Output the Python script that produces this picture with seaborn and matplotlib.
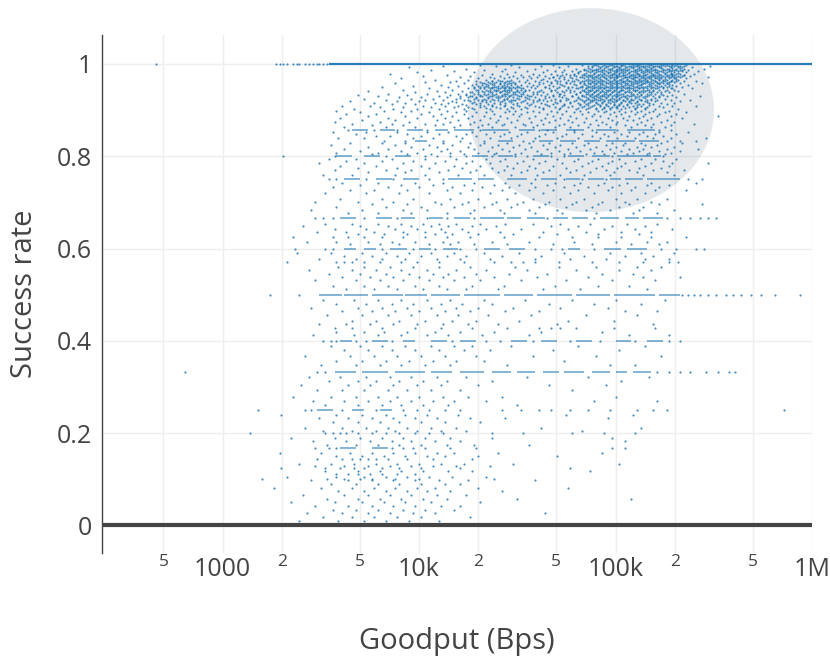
import numpy as np
import pandas as pd
import seaborn as sns
import matplotlib.pyplot as plt
from matplotlib.ticker import FixedLocator, FixedFormatter

# values: y in thousandths, x as 100*log10(Bps)
rows_top = {
 998: [431,447,468,483,489,490,494,497,498,503,504,509,511,512,517,518,523,524,526,529,531,536],
 995: [412,439,462,476,486,491,493,496,500,501,505,507,510,513,515,516,520,521,525,527,530,533,548],
 993: [395,451,471,488,492,495,499,502,506,508,509,512,514,517,519,522,523,528,532,534,539],
 990: [424,444,459,480,484,487,490,491,496,497,501,503,504,507,511,513,516,518,520,524,526,527,531,535,545],
 988: [406,433,465,474,485,489,493,494,498,500,502,505,506,510,512,515,517,519,521,525,529,530,533,537],
 984: [418,442,455,469,478,482,486,488,491,492,495,499,501,504,508,509,511,514,516,518,522,523,527,528,532,534,542],
 982: [399,428,449,463,473,481,487,490,493,496,497,500,503,505,507,510,513,515,517,520,521,524,526,530,536],
 979: [385,437,445,458,467,475,479,484,489,492,494,498,499,502,506,509,511,512,516,519,522,525,528,529,531,533,540],
 977: [414,432,452,461,470,477,483,486,488,491,495,497,501,504,505,508,510,514,515,518,520,523,527,530,535],
 974: [402,426,441,448,456,464,472,480,485,487,490,493,496,500,502,503,507,509,512,513,517,519,521,524,526,529,532,534,538],
 971: [421,436,446,453,460,468,474,482,486,489,492,494,498,499,501,505,506,510,511,514,516,518,522,525,528,531,533,547],
 969: [391,430,438,443,450,457,466,471,478,484,488,491,495,497,500,504,508,509,513,515,517,520,521,523,527,530,536],
 966: [408,425,434,440,447,455,462,469,476,481,485,487,490,493,496,499,502,503,506,510,512,514,516,519,522,524,526,529,532],
 963: [419,429,437,442,445,451,459,465,472,479,483,486,489,492,494,498,501,505,507,508,511,513,515,518,520,525,528,531,535,541],
 961: [403,416,431,435,439,444,448,454,461,467,475,482,488,491,495,497,500,503,504,509,512,516,517,521,523,527,530],
 958: [388,423,433,436,441,446,449,456,463,470,477,484,487,490,493,496,499,502,506,510,511,514,515,519,522,524,526,533,544],
 955: [411,427,432,435,438,443,447,452,458,466,473,480,485,489,492,494,498,501,505,507,508,512,513,518,520,525,529,537],
 953: [397,420,430,434,440,442,445,450,455,460,468,474,483,486,488,491,495,497,500,503,504,509,511,516,517,521,523,527,531],
 950: [381,415,428,433,437,439,444,448,451,457,464,471,478,482,487,490,493,496,499,502,506,510,513,515,519,522,526,534],
 947: [405,425,431,436,441,443,446,449,453,459,466,476,481,485,489,492,494,498,501,505,507,508,512,514,518,520,524,528,539],
 944: [392,417,429,434,438,440,445,447,452,456,462,469,475,483,486,488,491,495,497,500,503,504,509,511,516,517,522,530],
 942: [374,409,422,432,435,439,442,444,450,454,461,467,473,479,484,487,490,493,496,499,502,506,510,513,515,519,525,532],
 939: [398,413,426,430,436,441,446,448,451,458,463,470,477,482,485,489,492,494,498,501,505,507,512,514,518,521,527],
 936: [384,404,420,428,433,437,443,445,449,453,460,465,472,480,486,488,491,495,497,500,503,508,511,516,520,523,535],
 933: [369,394,416,424,431,434,438,442,447,450,455,462,468,474,483,487,490,493,496,499,502,506,509,513,517,524,529],
 931: [379,410,421,427,432,436,440,444,446,452,457,464,471,478,484,489,492,494,498,501,504,507,510,515,519,526,543],
 928: [390,401,414,425,429,435,439,441,448,454,459,466,473,481,485,488,491,495,500,503,505,511,514,522,531],
 925: [372,396,407,419,428,433,437,443,445,451,456,461,469,476,482,486,490,493,497,499,502,506,508,512,518,525],
 922: [383,403,412,423,430,434,440,447,449,458,463,467,475,483,487,489,492,496,501,504,509,513,516,521,528,538],
 919: [365,389,400,417,426,432,436,442,446,453,460,465,472,479,484,488,494,498,500,505,507,511,515,520,533],
 916: [377,393,408,415,427,431,438,444,450,455,462,470,477,481,486,490,493,497,503,508,510,517,523,530],
 913: [386,398,411,422,429,435,441,448,457,464,468,474,482,485,491,495,499,502,506,512,514,519,526],
 909: [361,375,402,413,420,433,437,443,451,459,466,473,478,484,488,492,496,501,504,509,513,522,529,541],
 906: [380,392,406,418,425,431,439,447,454,461,469,476,483,487,494,498,500,507,511,516,524],
 903: [367,387,399,410,423,428,436,445,452,463,471,480,485,490,493,497,503,510,515,520,532],
}
rows_dense = {
 996: [488,495,499,503,508,511,514,519,522,528,532,535],
 991: [486,492,494,498,502,505,509,512,515,518,523,529,533],
 986: [484,488,490,493,497,500,503,506,510,513,516,520,524,527,531,534],
 981: [481,485,489,494,496,499,502,504,507,511,514,518,521,525,528,532],
 976: [473,479,484,487,491,493,498,500,504,508,512,515,519,522,526,529,535],
 972: [468,477,483,488,490,494,497,501,505,507,510,514,517,520,523,527,530],
 967: [463,474,480,486,489,492,495,499,503,506,509,512,515,518,522,525,531],
 964: [437,441,446,470,478,484,488,491,493,497,500,504,507,510,513,516,520,524,528],
 959: [432,438,443,447,467,475,482,486,489,492,495,498,501,505,508,511,514,518,521,526],
 956: [429,434,437,441,445,449,461,472,479,484,487,490,493,497,500,503,506,509,513,517,522,527],
 951: [431,435,438,442,446,450,464,476,483,486,489,492,495,498,501,504,507,511,514,518,524],
 948: [428,433,437,440,444,447,452,470,480,485,488,491,494,497,500,503,506,509,512,516,521,529],
 943: [430,436,439,443,446,450,454,467,477,484,487,490,493,496,499,503,507,510,514,519,526],
 940: [427,433,437,441,445,449,453,460,474,482,486,489,492,495,498,502,505,508,512,517,523],
 935: [424,430,435,439,444,448,452,458,471,480,485,488,491,494,497,501,504,509,513,518],
 930: [426,431,437,442,446,451,456,468,478,483,487,490,493,496,500,505,508,512,516,522],
 926: [421,429,435,440,445,450,455,464,475,481,486,489,492,495,498,502,506,510,515,520],
 921: [425,432,438,443,448,454,461,472,480,485,488,491,494,497,500,504,508,513,518],
 917: [419,428,434,441,447,452,458,469,477,484,487,490,493,496,499,503,507,511,516],
 911: [424,431,437,444,450,456,465,474,482,486,489,492,495,499,502,506,511,517],
 905: [427,434,441,448,455,463,472,481,486,490,494,497,501,505,510,515],
}
rows_mid = {
 899: [358,382,396,414,424,437,446,449,458,467,475,482,491,495,502,508,513,519,527],
 895: [370,391,405,419,429,434,444,455,461,470,479,486,494,499,505,511,517,525,536],
 891: [363,378,401,411,423,438,448,452,465,473,483,489,497,503,510,515,522,531],
 887: [374,393,407,417,427,433,441,451,459,468,477,488,492,500,507,514,521,528,552],
 883: [360,384,399,413,425,436,445,456,464,472,480,485,496,504,512,518,534],
 879: [371,388,409,420,431,440,450,462,469,476,490,498,506,509,516,526],
 875: [357,380,395,416,428,439,447,457,466,478,484,493,501,513,523,530],
 871: [366,386,403,412,426,435,443,453,463,474,487,495,500,511,519,540],
 867: [376,392,408,421,432,442,454,460,471,481,491,505,515,528],
 863: [362,383,398,418,430,437,449,458,469,477,486,497,508,518,525],
 852: [356,373,389,404,415,427,438,446,455,468,479,490,499,507,514,522,537],
 848: [368,394,410,424,434,443,452,464,475,483,494,503,512,520,531],
 844: [378,385,401,419,429,441,450,461,473,488,496,506,516,524],
 839: [359,372,397,407,422,436,447,459,470,481,492,501,510,519,528,546],
 828: [365,381,393,412,426,433,445,456,466,478,486,498,505,513,523,534],
 824: [355,388,405,417,431,440,451,463,472,484,495,504,515,521],
 820: [374,396,409,425,437,448,457,469,480,490,500,511,518,530],
 816: [362,384,402,414,428,442,454,465,476,487,497,507,514,526,542],
 812: [370,391,411,421,435,446,460,471,482,493,503,512,522,533],
 808: [358,379,399,416,430,439,452,467,477,489,499,509,517,528],
 804: [376,394,406,423,438,449,462,474,485,494,506,516,525],
 794: [354,368,386,403,419,434,444,458,470,481,491,502,513,520,531],
 789: [363,381,397,413,427,441,453,464,479,488,498,510,524],
 785: [349,372,392,408,424,436,450,461,473,486,496,505,518,529,547],
 780: [360,378,401,418,431,445,456,468,483,493,503,515,527],
 775: [369,389,405,422,437,448,459,475,490,501,512,523],
 770: [357,383,396,415,429,443,455,466,480,495,507,519,535],
 765: [374,393,410,426,440,452,463,477,487,499,511,526],
 760: [351,366,388,403,420,433,447,460,472,484,497,514,530],
 743: [361,379,398,412,428,444,457,469,482,494,506,518,541],
 738: [370,391,407,423,438,451,465,479,491,502,516,527],
 733: [356,384,400,417,432,446,459,474,486,498,510,522],
 727: [365,377,394,414,427,442,456,468,481,496,508,520,536],
 720: [352,373,390,405,421,436,449,463,477,489,503,515],
 708: [360,381,397,416,430,445,458,472,484,500,511,526],
 702: [347,369,387,408,425,439,453,466,480,493,505,518],
 696: [376,394,411,422,437,450,464,478,491,507,522,544],
 690: [358,383,401,418,433,447,461,475,488,502,514],
 684: [345,371,392,404,428,441,456,470,485,497,512,530],
 677: [364,379,396,414,426,443,459,473,490,509,521],
}
rows_low = {
 654: [352,366,379,391,402,410,419,431,444,458,472,487,506,521],
 648: [341,370,384,396,406,415,427,439,467,481,498,515],
 642: [357,373,388,399,411,422,434,452,476,494,510,529],
 636: [348,363,377,392,403,413,425,441,463,485,503,518],
 631: [369,382,394,408,417,430,448,470,491,512],
 615: [343,358,374,386,398,412,420,437,456,479,500,516,526],
 609: [365,380,390,405,416,428,445,468,488,508,522],
 590: [338,355,371,383,395,406,418,433,451,474,497,513,530],
 584: [362,376,389,401,414,424,442,462,484,505,519],
 578: [349,368,381,393,409,421,436,459,477,495,515,527],
 560: [359,372,385,397,410,426,449,471,490,511,523],
 553: [344,366,378,391,404,419,434,455,480,502,518],
 546: [354,370,383,395,407,415,429,446,465,493,509],
 539: [361,375,387,400,412,423,438,460,486,514,533],
 532: [347,368,380,392,405,418,431,452,475,498,520],
 520: [356,372,384,398,410,427,443,469,491,507],
 512: [363,377,389,402,414,424,440,463,482,516],
 488: [351,367,379,391,404,416,433,454,478,500,525],
 480: [358,373,386,397,411,422,437,466,489,513],
 472: [345,369,381,394,406,419,430,448,472,496],
 464: [361,376,388,400,413,426,444,461,505,521],
 456: [353,371,384,396,409,420,435,457,485,511],
 444: [366,378,390,403,417,429,451,476,499],
 436: [349,363,375,387,399,412,425,440,470,519],
 420: [358,372,382,394,408,421,438,462,493],
 412: [346,367,379,391,404,415,432,456,507,527],
 388: [355,370,381,393,406,418,427,447,481,515],
 380: [362,374,386,398,410,423,436,468,502],
 368: [342,365,377,389,401,413,429,458,490,523],
 356: [358,371,383,395,407,419,433,474],
 348: [350,368,380,391,403,416,445,497,510],
 322: [344,360,373,385,396,409,424,455,486,517],
 314: [354,369,378,390,402,414,437,503],
 304: [340,364,375,387,399,411,430,466,495],
 294: [348,361,372,384,394,406,421,478],
}
rows_bottom = {
 278: [336,355,368,379,389,400,412,425,442,500],
 270: [346,362,374,385,396,407,418,434,489,521],
 262: [352,369,381,391,402,415,450],
 240: [330,358,371,383,393,404,420,475,509],
 232: [349,364,376,387,398,409,426,444,496],
 224: [356,369,380,390,401,413,431],
 212: [342,361,373,384,394,406,419,462,513],
 204: [351,366,378,388,399,411,424,483],
 190: [335,357,370,381,392,403,416,437,498],
 182: [346,363,375,386,396,408,421,505],
 174: [353,368,379,390,401,414,428,456],
 156: [329,350,365,376,387,398,409,418,440,493],
 150: [358,371,382,393,404,413,430,470],
 134: [339,355,367,378,389,400,411,423,448,502],
 128: [347,362,374,385,396,407,419,436],
 118: [352,369,380,391,402,415,427,487],
 106: [333,358,372,383,394,405,417,434],
 98: [345,364,376,387,398,410,425,459],
 90: [355,368,379,390,401,413,421],
 82: [326,350,366,377,388,399,408,430,476],
 75: [359,372,383,394,404,416,442],
 66: [341,362,374,385,396,409,424],
 58: [353,369,380,391,402,414,450,508],
 50: [335,357,371,382,393,406,431],
 42: [347,364,376,387,398,411,421],
 34: [356,368,379,392,403,418],
 26: [343,361,374,385,397,408,464],
 18: [351,366,377,389,401,426],
 10: [339,359,372,383,395,410],
 3: [355,367,378,405,433],
}
# dotted points that sit on the exact fractions
levels = {
 1000: [266,327,329,331,333,336,338,339,342,344,346,348,349,351,353],
 857: [364,377,389,404,431,461,465,479,488,501,522,528],
 833: [382,393,412,421,433,453,458,526,533,541],
 800: [331,357,383,403,409,416,424,437,449,455,467,474,498,524],
 750: [354,358,373,387,405,412,459,474,483,495,537,544],
 667: [347,351,356,372,389,404,414,428,465,489,526,533,538,543,547,551],
 625: [336,356,364,372,381,392,403,414,426,443,461,478,491,503,518,536],
 600: [337,352,356,381,397,408,421,429,459,467,473,489,523,531,541,545],
 571: [333,358,362,366,372,380,391,399,410,423,438,447,453,459,471,488,502,514,527,532],
 500: [324,339,534,537,540,543,547,551,556,560,564,569,574,581,594],
 429: [357,366,381,398,411,427,445,461,467,472,480,499,520],
 400: [351,355,358,368,373,386,417,434,441,458,477,492,510,527,533],
 333: [281,348,352,521,527,533,538,546,552,558,561],
 250: [318,342,345,361,378,392,399,405,413,421,442,452,461,467,477,486,497,511,519,526,586],
 200: [314,352,356,360,363,369,376,383,390,398,405,412,437,453,478,494,510],
 167: [347,354,358,386,392,397,403,416,429,498,505],
 143: [348,361,366,370,374,378,384,394,407,427],
 125: [330,352,360,367,372,381,390,401,421,477],
 111: [358,364,369,375,381,389,398],
 100: [320,353,362,370,376,388,400,438],
}
# stretches where the dots merge into a line: (y, x from, x to)
runs = [
 (1000, 354, 600),
 (500, 349, 361), (500, 362, 374), (500, 376, 392), (500, 393, 404), (500, 406, 421),
 (500, 423, 441), (500, 443, 458), (500, 460, 478), (500, 480, 497), (500, 499, 520), (500, 522, 533),
 (667, 360, 368), (667, 378, 386), (667, 391, 398), (667, 405, 412), (667, 418, 426), (667, 431, 443),
 (667, 445, 452), (667, 455, 464), (667, 468, 476), (667, 478, 486), (667, 492, 502), (667, 505, 512), (667, 514, 524),
 (750, 362, 370), (750, 378, 386), (750, 392, 400), (750, 415, 427), (750, 430, 438), (750, 445, 455),
 (750, 462, 470), (750, 475, 482), (750, 486, 494), (750, 497, 503), (750, 505, 514), (750, 516, 533),
 (800, 358, 366), (800, 372, 380), (800, 388, 396), (800, 427, 435), (800, 440, 448), (800, 458, 466),
 (800, 476, 484), (800, 488, 497), (800, 501, 518), (800, 519, 523),
 (857, 366, 374), (857, 380, 388), (857, 394, 402), (857, 408, 415), (857, 418, 428), (857, 432, 446),
 (857, 451, 459), (857, 462, 470), (857, 475, 484), (857, 490, 500), (857, 506, 520),
 (833, 398, 404), (833, 440, 448), (833, 461, 468), (833, 472, 480), (833, 484, 492), (833, 495, 510), (833, 512, 522),
 (600, 362, 368), (600, 372, 378), (600, 385, 394), (600, 400, 406), (600, 412, 420), (600, 433, 441),
 (600, 446, 454), (600, 476, 482), (600, 494, 503), (600, 506, 516),
 (400, 360, 366), (400, 376, 384), (400, 392, 398), (400, 406, 414), (400, 421, 429), (400, 447, 455),
 (400, 462, 470), (400, 480, 488), (400, 500, 508), (400, 516, 524),
 (333, 357, 368), (333, 371, 384), (333, 388, 403), (333, 406, 417), (333, 421, 433), (333, 437, 447), (333, 450, 459),
 (333, 463, 471), (333, 474, 484), (333, 488, 497), (333, 500, 506), (333, 509, 518),
 (250, 348, 356), (250, 366, 372), (250, 380, 386),
 (167, 360, 368), (167, 376, 384),
]

x_vals = []
y_vals = []
for group in [rows_top, rows_dense, rows_mid, rows_low, rows_bottom, levels]:
    for y, xs in group.items():
        x_vals += xs
        y_vals += [y] * len(xs)
df = pd.DataFrame({'goodput': 10 ** (np.array(x_vals) / 100), 'success': np.array(y_vals) / 1000})

blue = '#1f77b4'
dark = '#444444'
plt.rcParams['font.family'] = ['Open Sans', 'DejaVu Sans']

fig = plt.figure(figsize=(8.3, 6.67), dpi=100)
ax = fig.add_axes([101.5 / 830, 1 - 553 / 667, 710.5 / 830, 518 / 667])

sns.scatterplot(data=df, x='goodput', y='success', color=blue, s=2.4, linewidth=0, alpha=0.85, ax=ax, zorder=3)
for y, x0, x1 in runs:
    ax.plot([10 ** (x0 / 100), 10 ** (x1 / 100)], [y / 1000] * 2, color=blue,
            lw=1.6 if y == 1000 else 1.1, alpha=0.95 if y == 1000 else 0.7, zorder=3,
            solid_capstyle='butt')

ax.set_xscale('log')
ax.set_xlim(10 ** 2.384, 10 ** 6)
ax.set_ylim(-0.0596, 1.0628)

# highlight ellipse, in log space like the axis
t = np.linspace(0, 2 * np.pi, 200)
ax.fill(10 ** (4.875 + 0.626 * np.cos(t)), 0.90 + 0.221 * np.sin(t), color='#2c4560',
        alpha=0.12, lw=0, clip_on=False, zorder=2)

major = [1000, 10000, 100000, 1000000]
minor = [500, 2000, 5000, 20000, 50000, 200000, 500000]
ax.xaxis.set_major_locator(FixedLocator(major))
ax.xaxis.set_major_formatter(FixedFormatter(['1000', '10k', '100k', '1M']))
ax.xaxis.set_minor_locator(FixedLocator(minor))
ax.xaxis.set_minor_formatter(FixedFormatter(['5', '2', '5', '2', '5', '2', '5']))
ax.set_yticks([0, 0.2, 0.4, 0.6, 0.8, 1])
ax.set_yticklabels(['0', '0.2', '0.4', '0.6', '0.8', '1'])

ax.grid(True, which='both', color='#eeeeee', lw=1)
ax.set_axisbelow(True)
ax.tick_params(axis='x', which='major', length=0, labelsize=18, labelcolor=dark, pad=3)
ax.tick_params(axis='x', which='minor', length=0, labelsize=12.5, labelcolor=dark, pad=1)
ax.tick_params(axis='y', length=0, labelsize=18, labelcolor=dark, pad=7)

ax.axhline(0, color=dark, lw=3, zorder=4)
sns.despine(ax=ax, top=True, right=True, bottom=True)
ax.spines['left'].set_color(dark)
ax.spines['left'].set_linewidth(1)

ax.set_xlabel('Goodput (Bps)', fontsize=21, color=dark)
ax.set_ylabel('Success rate', fontsize=21, color=dark)
ax.xaxis.set_label_coords(0.5, -0.17)
ax.yaxis.set_label_coords(-0.109, 0.5)
ax.xaxis.label.set_verticalalignment('center')
ax.yaxis.label.set_verticalalignment('center')

plt.savefig('out.png', dpi=100)
